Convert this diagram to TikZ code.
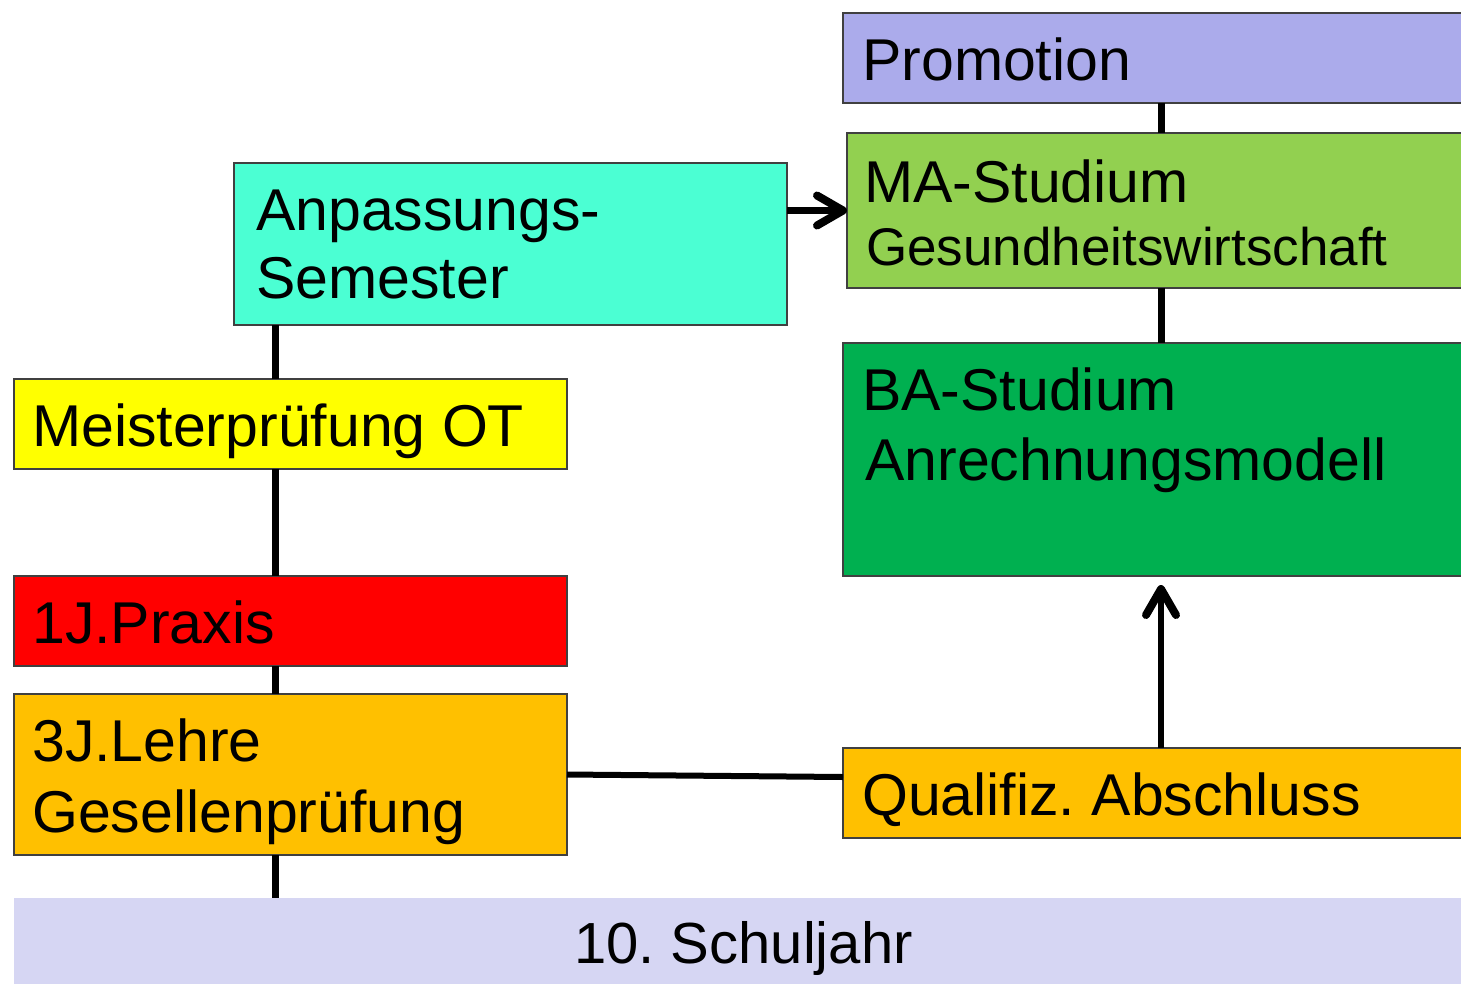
\documentclass[tikz,border=0pt]{standalone}
\usepackage{fontspec}
\setmainfont{Liberation Sans}
\usetikzlibrary{arrows.meta,calc}
\definecolor{cPromo}{HTML}{ABABEB}
\definecolor{cMA}{HTML}{92D050}
\definecolor{cAnp}{HTML}{4BFFD3}
\definecolor{cMei}{HTML}{FFFF00}
\definecolor{cBA}{HTML}{00B050}
\definecolor{cPra}{HTML}{FF0000}
\definecolor{cOrange}{HTML}{FFC000}
\definecolor{cSchul}{HTML}{D6D6F3}
\frenchspacing
\begin{document}
\begin{tikzpicture}[x=1pt,y=-1pt,
  box/.style={draw=black!75,line width=1.2pt,inner sep=0pt,outer sep=0pt,anchor=north west,rectangle},
  plainbox/.style={inner sep=0pt,outer sep=0pt,anchor=north west,rectangle},
  txt/.style={inner sep=0pt,anchor=base west,font=\fontsize{59}{59}\selectfont},
  stxt/.style={txt,font=\fontsize{53}{53}\selectfont},
  conn/.style={line width=7pt},
  hconn/.style={line width=6pt},
  arr/.style={line width=6.5pt,-{Straight Barb[length=26pt,width=30pt,line width=1.5pt 1,round]}}
]
\useasboundingbox (0,0) rectangle (1461,983);
\clip (0,0) rectangle (1461,983);
\coordinate (lx) at (275,0);
\coordinate (rx) at (1161,0);
% boxes
\node[box,fill=cPromo,minimum width=630pt,minimum height=90pt] (promo) at (843,13) {};
\node[box,fill=cMA,minimum width=626pt,minimum height=155pt] (ma) at (847,133) {};
\node[box,fill=cAnp,minimum width=553pt,minimum height=162pt] (anp) at (234,163) {};
\node[box,fill=cMei,minimum width=553pt,minimum height=90pt] (mei) at (14,379) {};
\node[box,fill=cBA,minimum width=630pt,minimum height=233pt] (ba) at (843,343) {};
\node[box,fill=cPra,minimum width=553pt,minimum height=90pt] (pra) at (14,576) {};
\node[box,fill=cOrange,minimum width=553pt,minimum height=161pt] (leh) at (14,694) {};
\node[box,fill=cOrange,minimum width=630pt,minimum height=90pt] (qual) at (843,748) {};
\node[plainbox,fill=cSchul,minimum width=1460pt,minimum height=95pt] (schul) at (14,898) {};
% connectors
\draw[conn] (promo.south -| rx) -- (ma.north -| rx);
\draw[conn] (ma.south -| rx) -- (ba.north -| rx);
\draw[arr] (anp.east |- ma.west) -- (ma.west);
\draw[conn] (anp.south -| lx) -- (mei.north -| lx);
\draw[conn] (mei.south -| lx) -- (pra.north -| lx);
\draw[conn] (pra.south -| lx) -- (leh.north -| lx);
\draw[conn] (leh.south -| lx) -- (schul.north -| lx);
\draw[hconn] (leh.east) -- ($(qual.west)+(0,-16)$);
\draw[arr,shorten >=9pt] (qual.north -| rx) -- (ba.south -| rx);
% texts
\node[txt] (tPromo) at (862,80) {Promotion};
\node[txt] (tMA1) at (864,202) {MA-Studium};
\node[stxt] (tMA2) at (866,265) {Gesundheitswirtschaft};
\node[txt] (tAnp1) at (256,230) {Anpassungs-};
\node[txt] (tAnp2) at (256,298) {Semester};
\node[txt] (tMei) at (32,446) {Meisterprüfung OT};
\node[txt] (tBA1) at (862,410) {BA-Studium};
\node[txt] (tBA2) at (865,480) {Anrechnungsmodell};
\node[txt] (tPra) at (32,643) {1J.Praxis};
\node[txt] (tLeh1) at (32,761) {3J.Lehre};
\node[txt] (tLeh2) at (32,832) {Gesellenprüfung};
\node[txt] (tQual) at (862,815) {Qualifiz. Abschluss};
\node[txt,font=\fontsize{58}{58}\selectfont] (tSchul) at (574,963) {10. Schuljahr};
\end{tikzpicture}
\end{document}
